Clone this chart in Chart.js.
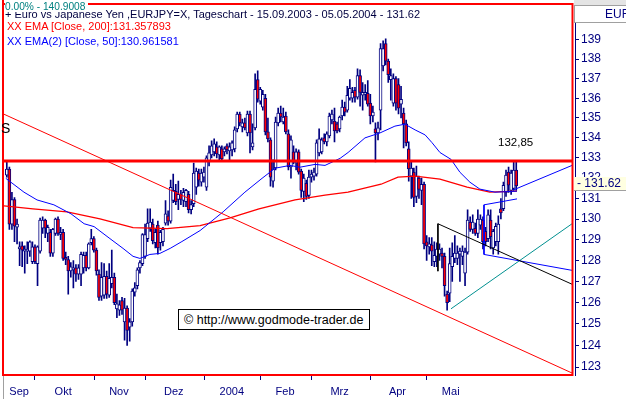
<!DOCTYPE html>
<html>
<head>
<meta charset="utf-8">
<script src="https://cdn.jsdelivr.net/npm/chart.js@4.4.1/dist/chart.umd.min.js"></script>
<style>
  html, body { margin: 0; padding: 0; background: #fff; }
  #wrap { position: relative; width: 626px; height: 399px; overflow: hidden; font-family: "Liberation Sans", Arial, sans-serif; }
  #chart { position: absolute; left: 0; top: 0; }
  .txt { position: absolute; white-space: nowrap; font-size: 11px; line-height: 13px; }
</style>
</head>
<body>
<div id="wrap">
  <canvas id="chart" width="626" height="399"></canvas>
  <div class="txt" style="left:5px; top:8px; color:#000040">+ Euro vs Japanese Yen ,EURJPY=X, Tageschart - 15.09.2003 - 05.05.2004 - 131.62</div>
  <div style="position:absolute; left:5px; top:0; width:83px; height:12px; background:#fff"></div>
  <div class="txt" style="left:5px; top:0.5px; font-size:10.2px; line-height:12px; color:#008080">0.00% - 140.9008</div>
  <div class="txt" style="left:7px; top:19.7px; color:#ff0000">XX EMA [Close, 200]:131.357893</div>
  <div class="txt" style="left:7px; top:35.4px; color:#0000ff">XX EMA(2) [Close, 50]:130.961581</div>
  <div class="txt" style="left:1px; top:120px; font-size:14px; line-height:16px; color:#000">S</div>
  <div class="txt" style="left:498px; top:135.5px; font-size:11.5px; line-height:13px; color:#000">132,85</div>
  <div style="position:absolute; left:178px; top:309px; width:190px; height:19px; border:1px solid #000; background:#fff;">
    <div class="txt" style="left:5px; top:2.5px; font-size:12.5px; line-height:14px; color:#000">© http://www.godmode-trader.de</div>
  </div>
  <div style="position:absolute; left:574px; top:0; width:52px; height:5px; background:#e4e4e4;"></div>
  <div style="position:absolute; left:574px; top:5px; width:52px; height:16px; border-top:1px solid #a0a0a0; border-bottom:1px solid #a0a0a0; border-left:1px solid #a0a0a0; background:#fff;">
    <div class="txt" style="left:30px; top:1px; font-size:12px; line-height:14px; color:#000080">EUR</div>
  </div>
  <div style="position:absolute; left:574px; top:177px; width:52px; height:13px; border-bottom:1px solid #a0a0a0; background:#ffffe1;">
    <div class="txt" style="left:3px; top:0; font-family:'Liberation Sans Narrow','Arial Narrow',sans-serif; font-size:12px; line-height:13px; color:#000080">- 131.62</div>
  </div>
</div>
<script>
// daily candles, EURJPY 15.09.2003 - 05.05.2004
const opens = [132.15,132.45,129.75,130.95,129.60,128.55,128.70,128.45,128.45,128.45,127.95,128.65,127.85,128.45,129.55,129.95,129.30,129.35,128.35,129.30,
  130.00,129.25,129.35,128.15,128.05,127.50,127.55,127.65,127.35,127.35,127.65,128.25,127.65,128.85,129.05,128.50,127.35,126.30,126.35,127.25,
  126.35,126.90,127.20,125.70,125.65,126.10,125.10,125.75,124.85,125.10,126.50,126.80,127.65,127.85,128.20,129.05,129.55,129.75,128.85,129.70,
  128.85,128.90,129.80,130.15,129.90,130.90,131.35,130.95,131.20,130.90,130.85,131.20,130.45,130.75,131.55,132.25,131.80,132.05,131.55,132.80,
  133.15,133.30,133.55,133.15,133.45,133.30,133.60,133.35,133.40,133.45,134.45,135.20,134.55,134.75,134.25,135.20,133.55,134.50,136.95,135.85,
  135.55,136.00,134.30,133.90,131.85,132.50,134.75,135.25,134.80,135.10,134.20,132.55,133.30,132.75,133.30,132.35,131.35,131.75,131.15,132.05,
  132.10,132.20,133.25,133.30,134.00,133.80,134.10,134.90,134.85,134.70,134.45,135.10,135.55,135.40,136.00,136.00,136.40,136.05,137.15,136.15,
  136.20,136.25,135.75,135.10,134.45,134.25,135.40,137.65,138.80,137.90,136.95,135.75,137.00,136.70,135.70,135.25,134.70,133.45,132.10,132.30,
  131.10,132.00,131.40,131.70,128.90,128.65,128.75,127.95,128.20,128.30,128.35,128.20,126.40,126.45,127.70,128.10,128.10,128.30,128.20,127.40,
  128.40,129.85,129.50,129.55,129.30,129.70,129.95,129.40,129.05,129.95,128.60,128.90,128.90,130.50,130.50,131.30,132.30,131.40,131.50,132.40];
const highs = [132.78,132.55,131.30,131.05,130.00,128.90,128.90,128.70,128.90,128.95,128.90,128.75,128.70,130.05,130.10,130.00,129.70,129.50,129.55,130.05,
  130.10,129.60,129.50,128.40,128.20,127.90,128.00,127.80,127.80,128.40,128.40,128.40,128.85,129.50,129.15,128.60,127.55,127.90,127.85,127.50,
  127.85,128.50,127.40,126.40,126.10,126.25,126.20,125.85,125.25,126.65,126.95,127.65,128.00,129.30,129.75,130.50,130.50,130.00,129.50,129.90,
  129.45,129.60,130.90,130.40,131.90,132.20,131.70,131.85,131.40,131.50,131.45,131.35,130.90,132.75,132.50,132.45,132.45,132.55,133.10,133.60,
  133.85,133.95,133.80,133.60,133.60,133.55,133.70,133.75,133.85,134.55,135.30,135.30,134.95,135.00,135.35,135.35,134.70,137.25,137.40,136.55,
  136.40,136.20,135.00,134.00,132.90,135.05,135.50,135.60,135.50,135.30,134.40,134.10,133.60,133.45,133.40,132.45,132.20,131.90,132.40,132.40,
  132.50,133.90,134.45,134.00,134.20,134.30,135.25,135.40,135.50,134.80,135.10,135.90,135.80,136.60,136.95,136.55,136.55,137.50,137.45,136.80,
  136.70,136.90,136.20,135.60,134.75,134.80,138.80,138.95,139.05,138.00,137.50,137.25,137.10,137.00,136.60,135.50,134.90,133.80,132.80,132.50,
  132.60,132.10,132.00,131.80,129.20,129.10,129.10,128.90,128.85,128.80,128.60,128.35,126.55,128.60,128.85,129.20,128.70,128.60,128.70,128.60,
  130.45,130.10,130.20,129.80,130.45,130.20,130.10,129.60,130.45,130.45,129.50,129.80,130.15,131.00,131.80,132.40,132.55,132.40,132.85,132.85];
const lows = [132.05,129.50,129.50,128.90,128.80,127.75,127.70,127.40,127.85,128.20,127.85,127.85,126.80,128.35,129.30,129.10,128.90,128.20,128.20,129.20,
  129.20,129.00,128.00,127.80,126.40,127.20,126.70,127.00,127.10,126.80,127.40,127.50,127.60,128.75,128.40,127.30,126.10,126.10,126.20,126.20,
  126.25,126.70,125.90,125.30,125.40,125.45,124.25,124.00,124.20,124.90,126.30,126.65,127.40,127.75,128.10,128.90,129.40,128.80,128.60,128.30,
  128.50,128.70,129.70,129.70,129.80,130.80,130.70,130.45,130.70,130.60,130.60,130.30,130.25,130.60,131.20,131.60,131.60,131.80,131.40,132.60,
  133.00,133.10,133.00,132.85,132.90,133.10,133.20,132.85,133.10,133.30,134.30,134.60,134.30,134.40,134.10,133.25,133.40,134.40,135.80,135.70,
  135.40,134.15,133.80,131.60,131.55,132.40,134.60,134.80,134.70,134.20,132.40,132.00,132.70,132.40,132.20,131.05,130.85,130.95,131.00,131.80,
  131.90,132.10,133.10,133.20,133.70,133.60,134.00,134.70,133.80,134.25,134.30,134.90,135.10,135.30,135.90,135.80,135.80,135.95,135.60,135.40,
  135.90,135.60,134.70,134.80,132.80,133.90,134.40,137.40,137.70,136.80,135.90,135.60,135.40,135.20,135.00,133.50,133.60,131.85,131.00,130.60,
  130.80,131.00,130.70,128.55,128.00,128.30,127.75,127.70,127.70,128.00,127.65,126.30,125.65,126.05,127.00,127.90,127.80,127.00,127.80,126.80,
  128.30,129.40,129.30,129.20,129.10,129.50,128.55,128.70,128.90,128.55,128.30,128.70,128.30,130.00,130.40,131.10,131.30,131.20,131.40,131.40];
const closes = [132.45,129.75,130.95,129.65,129.75,128.65,128.50,128.55,128.55,128.90,128.65,127.95,128.65,129.95,129.95,129.55,129.60,128.35,129.50,130.00,
  129.30,129.35,128.10,128.05,127.50,127.70,127.65,127.35,127.65,128.30,128.25,127.65,128.80,129.05,128.50,127.50,126.25,127.20,127.25,126.40,
  127.15,127.20,126.00,125.95,125.90,125.65,125.75,124.70,125.10,126.55,126.70,127.55,127.90,129.25,129.25,129.80,129.85,128.95,129.35,128.60,
  129.35,129.50,130.25,129.90,131.55,131.40,130.85,131.20,130.95,131.30,131.40,130.45,130.70,132.25,132.35,131.90,132.25,132.30,133.00,133.25,
  133.60,133.70,133.20,133.55,132.95,133.45,133.40,133.55,133.75,134.40,135.20,134.75,134.75,134.50,135.20,134.25,133.75,136.45,135.95,136.45,
  136.20,134.30,133.95,132.05,132.45,134.80,135.25,135.05,135.05,134.30,132.55,133.90,132.80,133.30,132.30,131.40,132.00,131.10,132.05,132.20,
  132.30,133.75,133.95,133.90,133.80,134.20,135.10,135.20,134.35,134.35,135.05,135.55,135.30,136.15,136.50,136.30,136.05,137.15,136.30,136.30,
  136.30,135.70,135.10,135.30,134.25,134.50,138.55,138.55,137.90,137.20,137.15,137.00,135.75,135.50,135.95,134.70,133.75,132.45,132.50,131.05,
  132.10,131.45,131.70,128.80,128.70,128.80,128.45,128.25,128.55,128.55,128.20,126.80,126.00,127.85,128.20,128.35,128.35,128.45,128.45,128.40,
  129.95,129.50,129.85,129.30,130.00,130.00,128.90,128.90,130.20,129.15,129.40,129.65,129.75,130.30,131.65,132.15,131.65,132.25,132.40,131.62];

// moving averages, read at a few positions (x = candle index)
const ema200X = [-1.1, 10.2, 23.5, 36.4, 49.3, 62.6, 75.5, 87.2, 98.5, 112.6, 124.3, 133.3, 146.2, 152.8, 159.5, 169.2, 179.8, 188.7, 199.3];
const ema200Y = [130.64, 130.49, 130.35, 130.01, 129.58, 129.53, 129.68, 130.06, 130.49, 130.93, 131.17, 131.31, 131.70, 132.05, 132.10, 131.95, 131.56, 131.31, 131.36];
const ema50X = [-0.4, 6.7, 11.8, 18.4, 25.1, 30.2, 34.1, 40.3, 45.4, 49.3, 52.0, 55.9, 59.8, 63.8, 68.4, 75.5, 84.5, 93.0, 99.7, 104.8,
  110.6, 114.5, 120.4, 124.3, 130.2, 133.3, 139.9, 145.8, 151.6, 155.5, 159.5, 163.4, 166.1, 169.2, 173.5, 177.0, 180.9, 184.8, 190.7, 199.3];
const ema50Y = [131.99, 131.31, 130.93, 130.69, 130.25, 129.77, 129.63, 129.05, 128.58, 128.20, 128.10, 128.29, 128.34, 128.58, 128.91, 129.44, 130.35, 131.31, 131.99, 132.49,
  132.63, 132.54, 132.68, 132.63, 132.98, 133.27, 134.00, 134.25, 134.59, 134.69, 134.40, 134.15, 133.76, 133.27, 132.93, 132.29, 131.80, 131.46, 131.31, 131.36];

// drawn trend lines
const resistance = 132.85;
const resistX = [-1.1, 220.8];
const redTrendX = [-1.1, 220.8], redTrendY = [135.19, 122.73];
const blackTrendX = [168.4, 220.8], blackTrendY = [129.77, 126.87];
const blackSideX = [168.4, 168.4], blackSideY = [129.77, 127.49];
const tealTrendX = [173.5, 220.8], tealTrendY = [125.71, 129.77];
const flagSideX = [186.4, 186.4], flagSideY = [130.69, 128.29];
const flagTopX = [186.4, 199.3], flagTopY = [130.69, 130.98];
const flagLowX = [186.4, 220.8], flagLowY = [128.29, 127.53];
const channelX = [197.7, 220.8], channelY = [131.41, 132.63];

// axes
const X_MIN = -1.1, X_MAX = 221.95;
const Y_MIN = 122.64, Y_MAX = 140.6;
const yTicks = [123, 124, 125, 126, 127, 128, 129, 130, 131, 132, 133, 134, 135, 136, 137, 138, 139];
const monthTicks = [11.0, 34.2, 54.3, 77.3, 99.2, 119.1, 142.1, 164.0];
const monthLabelPos = [4.8, 22.0, 43.8, 65.2, 87.9, 108.7, 130.0, 152.6, 173.4];
const monthLabels = ['Sep', 'Okt', 'Nov', 'Dez', '2004', 'Feb', 'Mrz', 'Apr', 'Mai'];

const NAVY = '#000080';
const NARROW = "'Liberation Sans Narrow', 'Arial Narrow', sans-serif";

const idx = opens.map((_, i) => i);
const wickData = idx.map((i) => ({ x: i, y: [lows[i], highs[i]] }));
const bodyData = idx.map((i) => ({ x: i, y: [opens[i], closes[i]] }));
const bodyFill = idx.map((i) => (closes[i] >= opens[i] ? '#ffffff' : '#ff0000'));

function line(xs, ys, color, width, order) {
  return {
    type: 'line',
    data: xs.map((x, k) => ({ x: x, y: ys[k] })),
    borderColor: color,
    borderWidth: width,
    pointRadius: 0,
    fill: false,
    tension: 0,
    order: order,
  };
}

const frame = {
  id: 'frame',
  afterDraw(chart) {
    const c = chart.ctx;
    c.save();
    c.strokeStyle = '#ff0000';
    c.lineWidth = 2;
    c.beginPath();
    c.moveTo(3, 0); c.lineTo(3, 376);
    c.moveTo(3, 4); c.lineTo(573.5, 4);
    c.moveTo(572.5, 4); c.lineTo(572.5, 376);
    c.moveTo(2, 375); c.lineTo(573.5, 375);
    c.stroke();
    c.strokeStyle = '#a0a0a0';
    c.lineWidth = 1;
    c.beginPath(); c.moveTo(3.5, 376); c.lineTo(3.5, 399); c.stroke();
    c.restore();
  },
};

new Chart(document.getElementById('chart'), {
  type: 'bar',
  data: {
    datasets: [
      { type: 'bar', data: wickData, backgroundColor: NAVY, borderWidth: 0, barThickness: 1, grouped: false, order: 9 },
      { type: 'bar', data: bodyData, backgroundColor: bodyFill, borderColor: NAVY, borderWidth: 1, borderSkipped: false,
        barThickness: 3, minBarLength: 1, grouped: false, order: 8 },
      line(ema200X, ema200Y, '#ff0000', 1.3, 4),
      line(ema50X, ema50Y, '#0000ff', 1, 3),
      line(redTrendX, redTrendY, '#ff0000', 1, 2),
      line(resistX, [resistance, resistance], '#ff0000', 3, 1),
      line(blackTrendX, blackTrendY, '#000000', 1, 2),
      line(blackSideX, blackSideY, '#000000', 1, 2),
      line(tealTrendX, tealTrendY, '#009090', 1, 2),
      line(flagSideX, flagSideY, '#0000ff', 1, 2),
      line(flagTopX, flagTopY, '#0000ff', 1, 2),
      line(flagLowX, flagLowY, '#0000ff', 1, 2),
      line(channelX, channelY, '#0000ff', 1, 2),
    ],
  },
  options: {
    responsive: false,
    animation: false,
    events: [],
    devicePixelRatio: 1,
    layout: { padding: { left: 4, top: 5, right: 0, bottom: 0 } },
    plugins: { legend: { display: false }, tooltip: { enabled: false } },
    scales: {
      x: {
        type: 'linear',
        min: X_MIN,
        max: X_MAX,
        offset: false,
        grid: {
          display: true,
          drawOnChartArea: false,
          drawTicks: true,
          tickLength: 5,
          offset: false,
          color: 'rgba(0,0,0,0)',
          tickColor: (ctx) => (ctx.tick && monthTicks.includes(ctx.tick.value) ? NAVY : 'rgba(0,0,0,0)'),
        },
        border: { display: false },
        ticks: {
          autoSkip: false,
          maxRotation: 0,
          padding: 5,
          color: NAVY,
          font: { family: NARROW, size: 11 },
          callback: (v) => {
            const k = monthLabelPos.indexOf(v);
            return k >= 0 ? monthLabels[k] : '';
          },
        },
        afterBuildTicks: (s) => {
          s.ticks = monthTicks.concat(monthLabelPos).sort((a, b) => a - b).map((v) => ({ value: v }));
        },
        afterFit: (s) => { s.height = 24; },
      },
      y: {
        type: 'logarithmic',
        position: 'right',
        min: Y_MIN,
        max: Y_MAX,
        grid: { display: true, drawOnChartArea: false, drawTicks: true, tickLength: 4, color: NAVY },
        border: { display: true, color: NAVY, dash: [1, 2] },
        ticks: {
          autoSkip: false,
          padding: 2,
          color: NAVY,
          font: { family: NARROW, size: 12 },
          callback: (v) => String(v),
        },
        afterBuildTicks: (s) => { s.ticks = yTicks.map((v) => ({ value: v })); },
        afterFit: (s) => { s.width = 51; },
      },
    },
  },
  plugins: [frame],
});
</script>
</body>
</html>
